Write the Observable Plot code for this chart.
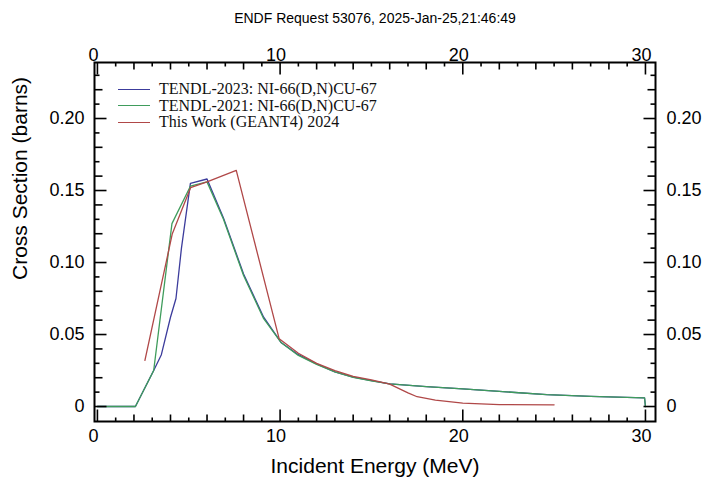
<!DOCTYPE html>
<html><head><meta charset="utf-8">
<script src="https://cdn.jsdelivr.net/npm/d3@7"></script>
<script src="https://cdn.jsdelivr.net/npm/@observablehq/plot@0.6"></script>
<style>
body{margin:0;background:#fff;}
#wrap{position:relative;width:710px;height:479px;}
#legend{position:absolute;left:118px;top:81px;font-family:"Liberation Serif",serif;font-size:16px;line-height:16.5px;color:#111;}
.lrow{display:flex;align-items:center;height:16.5px;white-space:nowrap}
.lsw{width:32px;height:0;border-top:1.3px solid;margin-right:9px}
</style></head><body><div id="wrap"><div id="legend"></div></div>
<script>
const chartTitle = "ENDF Request 53076, 2025-Jan-25,21:46:49";
const xTitle = "Incident Energy (MeV)";
const yTitle = "Cross Section (barns)";
const seriesNames = ["TENDL-2023: NI-66(D,N)CU-67", "TENDL-2021: NI-66(D,N)CU-67", "This Work (GEANT4) 2024"];
const seriesColors = ["#3c3c9c", "#3f9c5c", "#b04848"];

const tendl2023E = [0, 2.08, 3.08, 3.5, 4.0, 4.3, 4.6, 5.09, 6.0, 6.9, 8.0, 9.1, 10.05, 11, 12, 13, 14, 15, 16, 18, 20, 22, 24.6, 27, 29.95, 30.0];
const tendl2023S = [0, 0, 0.025, 0.036, 0.062, 0.075, 0.11, 0.155, 0.158, 0.131, 0.092, 0.062, 0.0445, 0.036, 0.0296, 0.024, 0.0204, 0.018, 0.0157, 0.0138, 0.0123, 0.0105, 0.0083, 0.007, 0.006, 0];

const tendl2021E = [0, 2.08, 3.08, 4.08, 5.09, 6.0, 6.9, 8.0, 9.1, 10.05, 11, 12, 13, 14, 15, 16, 18, 20, 22, 24.6, 27, 29.95, 30.0];
const tendl2021S = [0, 0, 0.025, 0.127, 0.153, 0.156, 0.130, 0.091, 0.061, 0.0445, 0.0355, 0.0293, 0.024, 0.0203, 0.0178, 0.0157, 0.0138, 0.0123, 0.0105, 0.0082, 0.007, 0.006, 0];

const geantE = [2.6, 4.1, 5.1, 6.0, 7.6, 9.95, 11, 12, 13, 14, 15, 16, 17, 17.5, 18.5, 20, 22, 25];
const geantS = [0.032, 0.12, 0.152, 0.156, 0.164, 0.047, 0.037, 0.030, 0.025, 0.021, 0.0185, 0.0155, 0.0095, 0.0068, 0.0045, 0.0024, 0.0013, 0.0012];

const xLabelTicks = [0, 10, 20, 30];
const yLabelTicks = [0, 0.05, 0.10, 0.15, 0.20];
const xMinorTicks = [0, 1, 2, 3, 4, 5, 6, 7, 8, 9, 10, 11, 12, 13, 14, 15, 16, 17, 18, 19, 20, 21, 22, 23, 24, 25, 26, 27, 28, 29, 30];
const yMinorTicks = [0, 0.01, 0.02, 0.03, 0.04, 0.05, 0.06, 0.07, 0.08, 0.09, 0.10, 0.11, 0.12, 0.13, 0.14, 0.15, 0.16, 0.17, 0.18, 0.19, 0.20, 0.21, 0.22, 0.23];

const W = 710, H = 479, mL = 94, mR = 55, mT = 62, mB = 58;
const fw = W - mL - mR, fh = H - mT - mB;
const xDomain = [-0.16, 30.55];
const yDomain = [-0.0104, 0.2389];
const xPerPx = (xDomain[1] - xDomain[0]) / fw;
const yPerPx = (yDomain[1] - yDomain[0]) / fh;

const series = [
  {name: seriesNames[0], E: tendl2023E, S: tendl2023S},
  {name: seriesNames[1], E: tendl2021E, S: tendl2021S},
  {name: seriesNames[2], E: geantE, S: geantS}
];
const curveRows = series.flatMap(s => s.E.map((e, i) => ({series: s.name, E: e, S: s.S[i]})));

// tick length (px) per tick value
const xLen = d => d % 10 === 0 ? 12 : (d % 2 === 0 ? 7 : 4);
const yLen = d => { const k = Math.round(d * 100); return k % 5 === 0 ? 12 : (k % 2 === 0 ? 8 : 5); };

const tickStyle = {stroke: "black", strokeWidth: 1.6};
const tickLinks = [
  Plot.link(xMinorTicks, {x1: d => d, x2: d => d, y1: () => yDomain[0], y2: d => yDomain[0] + xLen(d) * yPerPx, ...tickStyle}),
  Plot.link(xMinorTicks, {x1: d => d, x2: d => d, y1: () => yDomain[1], y2: d => yDomain[1] - xLen(d) * yPerPx, ...tickStyle}),
  Plot.link(yMinorTicks, {y1: d => d, y2: d => d, x1: () => xDomain[0], x2: d => xDomain[0] + yLen(d) * xPerPx, ...tickStyle}),
  Plot.link(yMinorTicks, {y1: d => d, y2: d => d, x1: () => xDomain[1], x2: d => xDomain[1] - yLen(d) * xPerPx, ...tickStyle})
];
const yFmt = d => d === 0 ? "0" : d.toFixed(2);

const plot = Plot.plot({
  width: W, height: H,
  marginLeft: mL, marginRight: mR, marginTop: mT, marginBottom: mB,
  style: {fontFamily: "'Liberation Sans', Arial, sans-serif", fontSize: "18px", background: "white", color: "black"},
  x: {domain: xDomain},
  y: {domain: yDomain},
  color: {domain: seriesNames, range: seriesColors},
  marks: [
    Plot.line(curveRows, {x: "E", y: "S", z: "series", stroke: "series", strokeWidth: 1.3}),
    ...tickLinks,
    Plot.axisX({anchor: "bottom", ticks: xLabelTicks, tickSize: 0, tickPadding: 8, label: null, dx: -4, fontSize: 18}),
    Plot.axisX({anchor: "top", ticks: xLabelTicks, tickSize: 0, tickPadding: 2, label: null, dx: -4, fontSize: 18}),
    Plot.axisY({anchor: "left", ticks: yLabelTicks, tickSize: 0, tickPadding: 10, label: null, tickFormat: yFmt, fontSize: 18}),
    Plot.axisY({anchor: "right", ticks: yLabelTicks, tickSize: 0, tickPadding: 11, label: null, tickFormat: yFmt, fontSize: 18}),
    Plot.frame({stroke: "black", strokeWidth: 2}),
    Plot.text([chartTitle], {frameAnchor: "top", dy: -44, lineAnchor: "middle", fontSize: 14}),
    Plot.text([xTitle], {frameAnchor: "bottom", dy: 45, lineAnchor: "middle", fontSize: 21}),
    Plot.text([yTitle], {frameAnchor: "left", dx: -74, dy: 38, lineAnchor: "middle", rotate: -90, fontSize: 21})
  ]
});

const wrap = document.getElementById("wrap");
wrap.insertBefore(plot, wrap.firstChild);

const legend = document.getElementById("legend");
seriesNames.forEach((n, i) => {
  const row = document.createElement("div");
  row.className = "lrow";
  const sw = document.createElement("span");
  sw.className = "lsw";
  sw.style.borderTopColor = seriesColors[i];
  const t = document.createElement("span");
  t.textContent = n;
  row.appendChild(sw); row.appendChild(t);
  legend.appendChild(row);
});
</script>
</body></html>
